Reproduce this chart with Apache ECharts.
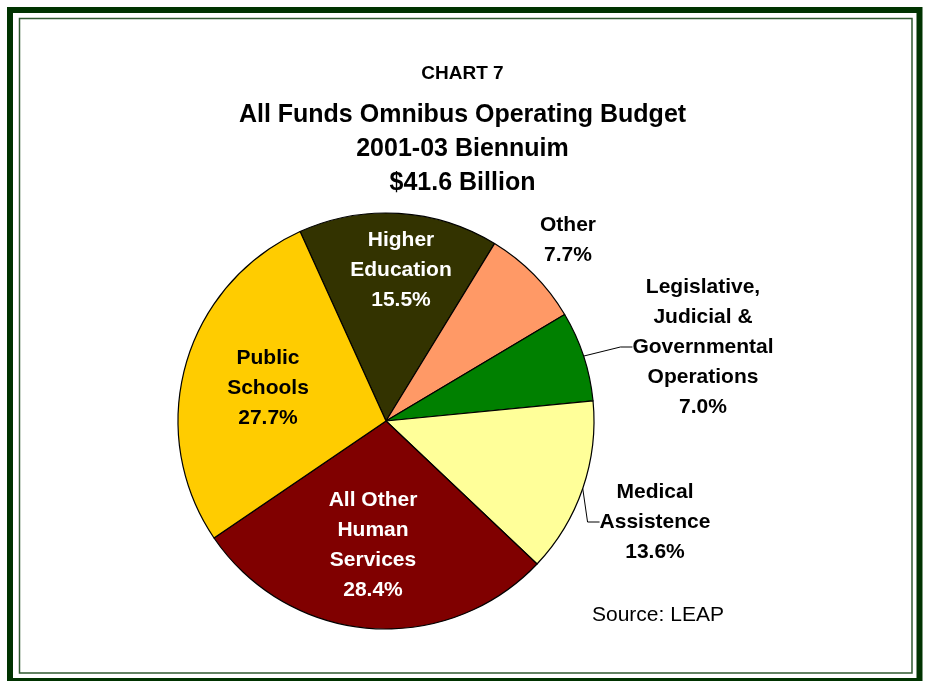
<!DOCTYPE html>
<html>
<head>
<meta charset="utf-8">
<script src="https://cdn.jsdelivr.net/npm/echarts@6/dist/echarts.min.js"></script>
<style>
  html, body { margin: 0; padding: 0; background: #fff; }
  #chart { width: 925px; height: 681px; }
</style>
</head>
<body>
<div id="chart"></div>
<script>
// slices, clockwise from the top-left edge
var categories = [
  "Higher Education",
  "Other",
  "Legislative, Judicial & Governmental Operations",
  "Medical Assistence",
  "All Other Human Services",
  "Public Schools"
];
var shares = [15.5, 7.7, 7.0, 13.6, 28.4, 27.7];
var labelText = [
  "Higher\nEducation",
  "Other",
  "Legislative,\nJudicial &\nGovernmental\nOperations",
  "Medical\nAssistence",
  "All Other\nHuman\nServices",
  "Public\nSchools"
];
var titleLines = ["All Funds Omnibus Operating Budget", "2001-03 Biennuim", "$41.6 Billion"];
var colors = ["#333300", "#FF9966", "#008000", "#FFFF99", "#800000", "#FFCC00"];
var labelColors = ["#fff", "#000", "#000", "#000", "#fff", "#000"];

// where each label block sits (centre point)
var labelPos = [
  [401, 270],
  [568, 240],
  [703, 347],
  [655, 522],
  [373, 545],
  [268, 388]
];
var showLine = [false, false, true, true, false, false];

var chart = echarts.init(document.getElementById("chart"));
var font = "'Liberation Sans', Arial, sans-serif";

var titles = [
  {
    text: "CHART 7",
    left: "center",
    top: 59,
    textStyle: { fontFamily: font, fontSize: 19, fontWeight: "bold", color: "#000" }
  },
  {
    text: "Source: LEAP",
    left: 587,
    top: 600,
    textStyle: { fontFamily: font, fontSize: 21, fontWeight: "normal", color: "#000" }
  }
];
titleLines.forEach(function (t, i) {
  titles.push({
    text: t,
    left: "center",
    top: 98 + i * 34,
    textStyle: { fontFamily: font, fontSize: 25, fontWeight: "bold", color: "#000" }
  });
});

chart.setOption({
  animation: false,
  backgroundColor: "#fff",
  title: titles,
  graphic: [
    {
      type: "rect",
      shape: { x: 10, y: 10, width: 909.5, height: 671 },
      style: { fill: null, stroke: "#003300", lineWidth: 6 },
      silent: true
    },
    {
      type: "rect",
      shape: { x: 19.5, y: 18.5, width: 892.5, height: 654.5 },
      style: { fill: null, stroke: "#2f5a2f", lineWidth: 1.5 },
      silent: true
    }
  ],
  series: [
    {
      type: "pie",
      center: [386, 421],
      radius: 208,
      startAngle: 114.4,
      clockwise: true,
      avoidLabelOverlap: false,
      itemStyle: { borderColor: "#000", borderWidth: 1.2 },
      label: {
        show: true,
        position: "outside",
        fontFamily: font,
        fontSize: 21,
        fontWeight: "bold",
        lineHeight: 30,
        align: "center",
        formatter: function (p) {
          return labelText[p.dataIndex] + "\n" + p.value.toFixed(1) + "%";
        }
      },
      labelLine: { show: false, length: 10, length2: 12, lineStyle: { color: "#000", width: 1 } },
      labelLayout: function (p) {
        var pos = labelPos[p.dataIndex];
        return { x: pos[0], y: pos[1], align: "center", verticalAlign: "middle" };
      },
      data: categories.map(function (c, i) {
        return {
          name: c,
          value: shares[i],
          itemStyle: { color: colors[i] },
          label: { color: labelColors[i] },
          labelLine: { show: showLine[i] }
        };
      })
    }
  ]
});
</script>
</body>
</html>
